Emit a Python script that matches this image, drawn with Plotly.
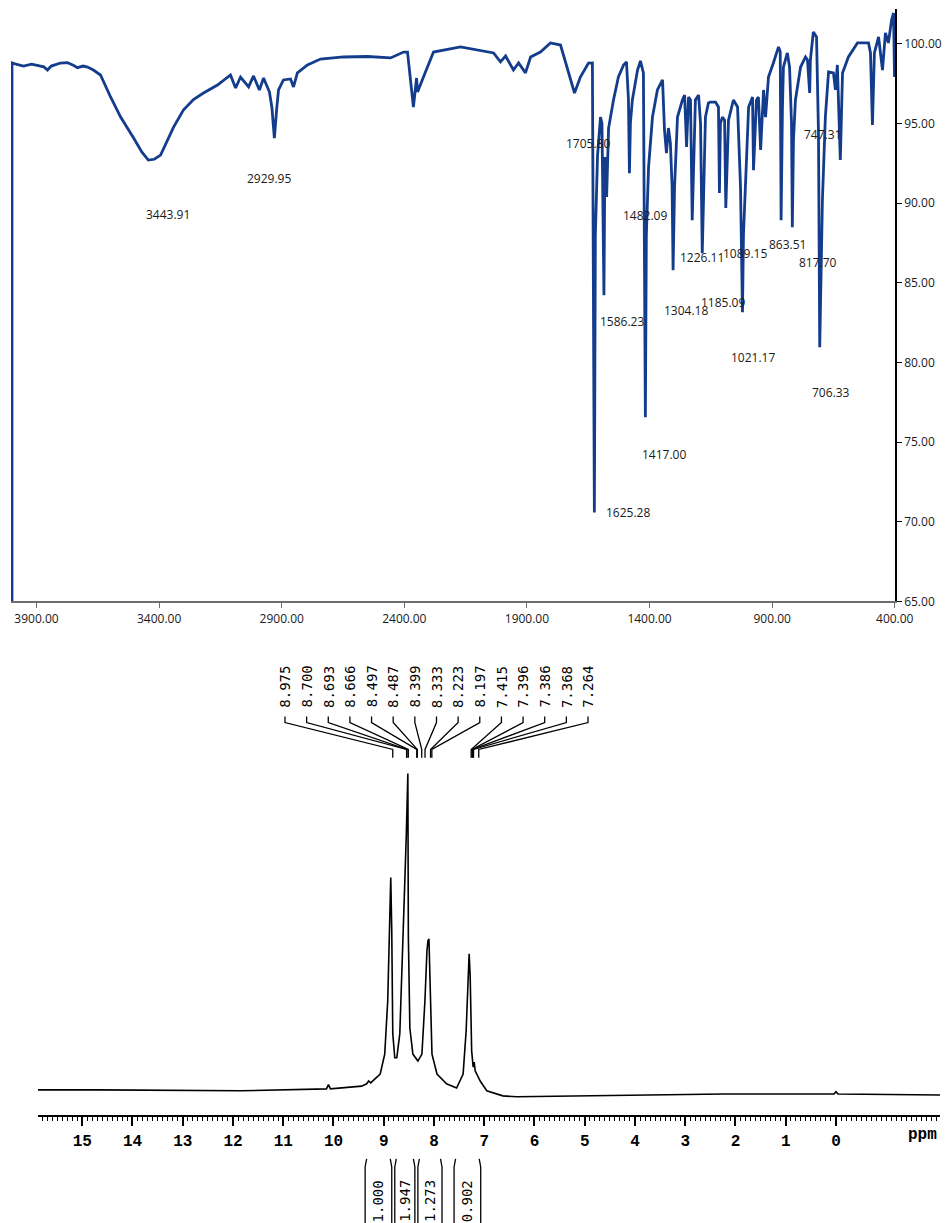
import numpy as np
import plotly.graph_objects as go

# ---------------- IR spectrum (wavenumber cm-1, %T) ----------------
ir_wavenumber = [
    4000, 4000, 3980, 3953, 3920, 3870, 3855, 3840, 3802, 3774,
    3750, 3733, 3710, 3692, 3668, 3651, 3639, 3598, 3557, 3504,
    3470, 3444, 3420, 3394, 3341, 3301, 3260, 3219, 3162, 3109,
    3088, 3068, 3035, 3015, 2991, 2974, 2950, 2940, 2930, 2920,
    2913, 2893, 2864, 2852, 2836, 2795, 2742, 2648, 2550, 2456,
    2403, 2387, 2375, 2363, 2350, 2346, 2322, 2281, 2171, 2036,
    2008, 1987, 1955, 1934, 1906, 1885, 1845, 1804, 1763, 1735,
    1706, 1682, 1649, 1633, 1629, 1625, 1621, 1612, 1600, 1594,
    1586, 1582, 1575, 1567, 1547, 1527, 1506, 1494, 1486, 1482,
    1478, 1470, 1449, 1437, 1425, 1421, 1417, 1413, 1404, 1388,
    1368, 1347, 1339, 1331, 1323, 1315, 1308, 1304, 1298, 1286,
    1266, 1257, 1249, 1241, 1233, 1226, 1217, 1213, 1200, 1192,
    1185, 1176, 1172, 1160, 1152, 1131, 1119, 1115, 1111, 1103,
    1094, 1089, 1078, 1058, 1041, 1029, 1021, 1017, 1009, 996,
    980, 976, 964, 956, 947, 935, 927, 915, 895, 874,
    867, 863.5, 858, 854, 838, 829, 821, 817.7, 813, 805,
    784, 764, 756, 747, 744, 732, 719, 711, 706, 699,
    695, 683, 670, 650, 642, 634, 622, 613, 589, 552,
    507, 499, 491, 483, 466, 450, 438, 426, 413, 405, 401,
]
ir_transmittance = [
    65.0, 98.8, 98.7, 98.6, 98.72, 98.55, 98.35, 98.6, 98.79, 98.82,
    98.65, 98.5, 98.6, 98.54, 98.35, 98.17, 98.04, 96.66, 95.40, 94.08,
    93.2, 92.7, 92.75, 93.01, 94.77, 95.84, 96.5, 96.91, 97.41, 98.04,
    97.22, 97.91, 97.29, 97.98, 97.10, 97.85, 96.97, 96.0, 94.08, 96.0,
    97.10, 97.73, 97.79, 97.29, 98.17, 98.67, 99.04, 99.17, 99.2, 99.11,
    99.48, 99.48, 97.91, 96.03, 97.85, 96.97, 97.91, 99.48, 99.80, 99.42,
    98.86, 99.23, 98.35, 98.79, 98.17, 99.17, 99.48, 100.05, 99.92, 98.48,
    96.91, 97.91, 98.79, 98.8, 88.0, 70.59, 88.0, 93.0, 95.40, 95.0,
    84.22, 92.89, 90.38, 94.71, 96.47, 97.91, 98.67, 98.86, 96.5, 91.88,
    95.02, 96.47, 98.35, 98.92, 98.17, 90.0, 76.56, 88.0, 92.26, 95.40,
    97.10, 97.73, 94.58, 93.14, 94.71, 93.77, 91.0, 85.79, 91.0, 95.40,
    96.47, 96.78, 93.52, 96.66, 96.47, 88.93, 95.0, 96.47, 96.78, 95.0,
    86.86, 94.0, 95.40, 96.28, 96.34, 96.34, 96.03, 90.63, 95.0, 95.40,
    95.2, 89.69, 95.21, 96.47, 96.03, 91.0, 83.15, 88.0, 91.26, 96.03,
    96.66, 92.07, 96.47, 96.66, 93.33, 97.10, 95.40, 97.91, 98.79, 99.80,
    99.5, 88.93, 96.0, 98.54, 99.42, 98.54, 95.0, 88.49, 94.0, 96.47,
    98.54, 99.17, 99.0, 96.91, 98.98, 100.74, 100.43, 94.4, 80.96, 87.0,
    90.19, 95.40, 98.23, 98.17, 97.10, 98.67, 92.70, 98.17, 99.17, 100.05,
    100.05, 99.42, 94.90, 99.42, 100.43, 98.35, 100.68, 100.05, 101.49, 101.93, 97.91,
]
ir_peak_labels = ["3443.91", "2929.95", "1705.80", "1482.09", "1586.23", "1417.00",
                  "1625.28", "1304.18", "1185.09", "1226.11", "1089.15", "863.51",
                  "817.70", "747.31", "1021.17", "706.33"]
ir_xticks = [3900, 3400, 2900, 2400, 1900, 1400, 900, 400]
ir_yticks = [65, 70, 75, 80, 85, 90, 95, 100]

# label placement (layout, in axis units)
ir_label_x = [3362, 2950, 1653, 1417, 1514, 1343, 1486, 1253, 1102, 1188, 1009, 837,
              715, 695, 980, 662]
ir_label_y = [89.3, 91.57, 93.77, 89.24, 82.6, 74.23, 70.59, 83.28, 83.78, 86.6, 86.86,
              87.4, 86.3, 94.3, 80.3, 78.1]

# ---------------- 1H NMR spectrum (ppm, intensity) ----------------
nmr_ppm = [
    15.88, 14.66, 11.85, 10.28, 10.14, 10.10, 10.06, 9.44, 9.34, 9.30,
    9.26, 9.07, 8.98, 8.92, 8.88, 8.86, 8.84, 8.82, 8.78, 8.74,
    8.68, 8.62, 8.58, 8.55, 8.52, 8.51, 8.48, 8.42, 8.32, 8.24,
    8.18, 8.14, 8.12, 8.10, 8.07, 8.04, 7.94, 7.75, 7.55, 7.42,
    7.36, 7.32, 7.30, 7.28, 7.25, 7.22, 7.20, 7.18, 7.08, 6.95,
    6.63, 6.35, 4.70, 2.23, 0.04, 0.0, -0.04, -2.07,
]
nmr_intensity = [
    -0.2, -0.2, -0.4, 0.0, 0.0, 0.9, 0.0, 0.6, 1.1, 1.7,
    1.3, 3.2, 7.5, 19.0, 40.5, 45.5, 34.0, 11.9, 6.7, 6.7,
    11.9, 29.7, 44.8, 55.0, 67.9, 33.0, 13.1, 7.5, 6.0, 7.5,
    19.0, 29.7, 31.9, 32.3, 21.0, 7.5, 3.2, 1.1, 0.2, 3.2,
    12.5, 25.4, 29.1, 24.4, 8.2, 4.7, 5.8, 3.9, 1.7, -0.4,
    -1.5, -1.7, -1.5, -1.1, -1.1, -0.6, -1.1, -1.3,
]
nmr_shift_labels = ["8.975", "8.700", "8.693", "8.666", "8.497", "8.487", "8.399",
                    "8.333", "8.223", "8.197", "7.415", "7.396", "7.386", "7.368", "7.264"]
nmr_ticks = list(range(0, 16))
integral_regions = [(9.37, 8.84), (8.78, 8.38), (8.32, 7.84), (7.60, 7.07)]
integral_values = ["1.000", "1.947", "1.273", "0.902"]
shift_reference_offset = 0.155  # drawn spectrum vs. listed shifts

# reference frame (domains expressed as fractions of this frame)
W, H = 946, 1223
# page size (the shot is reduced to the window size)
FIG_W, FIG_H = 965, 1232
IR_COLOR = "#143c8c"
IR_FONT = "Open Sans"
MONO = "DejaVu Sans Mono"

fig = go.Figure()

fig.add_trace(go.Scatter(x=ir_wavenumber, y=ir_transmittance, mode="lines",
                         line=dict(color=IR_COLOR, width=2.8), xaxis="x", yaxis="y",
                         hoverinfo="skip", showlegend=False))

fig.add_trace(go.Scatter(x=nmr_ppm, y=nmr_intensity, mode="lines",
                         line=dict(color="black", width=1.6), xaxis="x2", yaxis="y2",
                         hoverinfo="skip", showlegend=False))

label_pos = np.linspace(10.965, 4.935, len(nmr_shift_labels))
lx, ly = [], []
for p, s in zip(label_pos, nmr_shift_labels):
    end = float(s) - shift_reference_offset
    lx += [p, p, end, end, None]
    ly += [80.2, 78.9, 73.1, 71.3, None]
fig.add_trace(go.Scatter(x=lx, y=ly, mode="lines", line=dict(color="black", width=1.3),
                         xaxis="x2", yaxis="y2", hoverinfo="skip", showlegend=False))

annotations = []
for p, s in zip(label_pos, nmr_shift_labels):
    annotations.append(dict(x=p, y=86.6, xref="x2", yref="y2", text=s, textangle=-90,
                            showarrow=False, font=dict(family=MONO, size=14, color="black")))

bx, by = [], []
for (a, b), val in zip(integral_regions, integral_values):
    bx += [a - 0.03, a, a, None, b + 0.03, b, b, None]
    by += [65, 57, -2, None, 65, 57, -2, None]
    annotations.append(dict(x=(a + b) / 2, y=23, xref="x3", yref="y3", text=val,
                            textangle=-90, showarrow=False,
                            font=dict(family=MONO, size=14, color="black")))
fig.add_trace(go.Scatter(x=bx, y=by, mode="lines", line=dict(color="black", width=1.3),
                         xaxis="x3", yaxis="y3", hoverinfo="skip", showlegend=False))

for t, x, y in zip(ir_peak_labels, ir_label_x, ir_label_y):
    annotations.append(dict(x=x, y=y, xref="x", yref="y", text=t, showarrow=False,
                            font=dict(family=IR_FONT, size=12, color="#1a1a1a")))

annotations.append(dict(x=-1.73, y=1 - 1134 / H, xref="x2", yref="paper", text="ppm",
                        showarrow=False, yanchor="middle", xanchor="center",
                        font=dict(family="Liberation Mono", size=16, color="black", weight="bold")))

ppm_range = [15.88, -2.07]
fig.update_layout(
    width=FIG_W, height=FIG_H, autosize=False, margin=dict(l=0, r=0, t=0, b=0),
    paper_bgcolor="white", plot_bgcolor="white", showlegend=False,
    xaxis=dict(domain=[11 / W, 895 / W], range=[4004, 399], anchor="y",
               showgrid=False, zeroline=False, showline=True, linecolor="#6e6e6e",
               linewidth=2, ticks="outside", ticklen=5, tickcolor="#6e6e6e",
               tickvals=ir_xticks, ticktext=[f"{v:.2f}" for v in ir_xticks],
               tickfont=dict(family=IR_FONT, size=12, color="#1a1a1a")),
    yaxis=dict(domain=[1 - 601 / H, 1 - 9 / H], range=[65, 102.18], anchor="x",
               side="right", showgrid=False, zeroline=False, showline=True,
               linecolor="black", linewidth=1.5, ticks="outside", ticklen=5,
               tickcolor="black", tickvals=ir_yticks,
               ticktext=[f"{v:.2f}" for v in ir_yticks],
               tickfont=dict(family=IR_FONT, size=12, color="#1a1a1a")),
    xaxis2=dict(domain=[38 / W, 940 / W], range=ppm_range, anchor="y2",
                showgrid=False, zeroline=False, showline=True, linecolor="black",
                linewidth=2, ticks="outside", ticklen=9, tickwidth=2, tickcolor="black",
                tickvals=nmr_ticks, ticktext=[str(v) for v in nmr_ticks],
                ticklabelstandoff=1,
                tickfont=dict(family="Liberation Mono", size=16, color="black", weight="bold"),
                minor=dict(ticks="outside", ticklen=4, tickwidth=1, tickcolor="black",
                           tick0=0, dtick=0.1)),
    yaxis2=dict(domain=[1 - 1114 / H, 1 - 650 / H], range=[-5.6, 94.4], anchor="x2",
                visible=False),
    xaxis3=dict(domain=[38 / W, 940 / W], range=ppm_range, anchor="y3", visible=False),
    yaxis3=dict(domain=[0, 1 - 1150 / H], range=[0, 73], anchor="x3", visible=False),
    annotations=annotations,
)

fig.write_html("out.html", config={"responsive": False, "displayModeBar": False},
               default_width=f"{FIG_W}px", default_height=f"{FIG_H}px",
               post_script="document.body.style.margin='0';"
                           "document.body.style.overflow='hidden';")
